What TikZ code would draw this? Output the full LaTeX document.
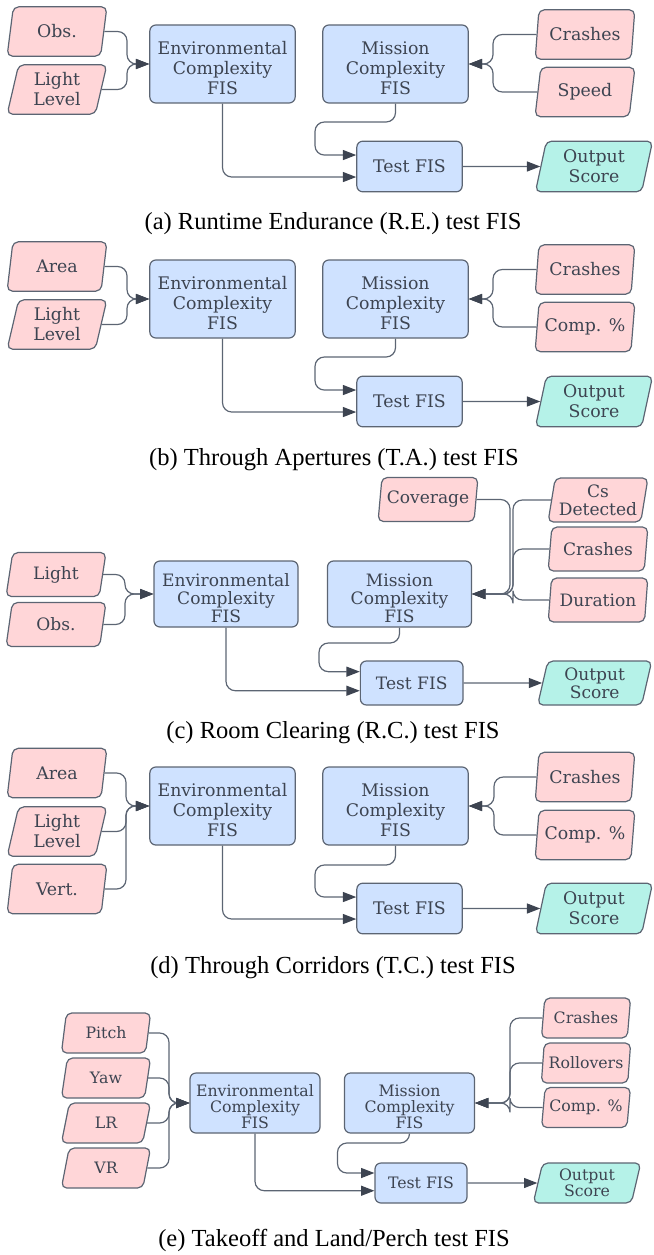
\documentclass[tikz,border=0pt]{standalone}
\usepackage{fontspec}
\setmainfont{Liberation Serif}
\newfontfamily\slabfont{DejaVu Serif}
\usepackage{tikz}
\usetikzlibrary{arrows.meta,shapes.geometric}

\definecolor{fisblue}{HTML}{CFE2FF}
\definecolor{inpink}{HTML}{FFD6D8}
\definecolor{outteal}{HTML}{B5F2E8}
\definecolor{edgegray}{HTML}{5C6573}
\definecolor{txtgray}{HTML}{3D4451}

% strut to push three-line labels down a little
\newcommand{\toppad}{\rule{0pt}{1.25em}}

\tikzset{
  fis/.style={draw=edgegray, line width=0.9pt, fill=fisblue, rounded corners=4.5pt,
    align=center, text=txtgray, inner sep=0pt,
    font=\slabfont\fontsize{13}{15}\selectfont,
    minimum width=109pt, minimum height=58.5pt},
  testfis/.style={fis, minimum width=79pt, minimum height=38pt},
  inbox/.style={trapezium, trapezium left angle=78, trapezium right angle=102,
    trapezium stretches=true, draw=edgegray, line width=0.9pt, fill=inpink,
    rounded corners=4pt, align=center, text=txtgray, inner sep=0pt,
    font=\slabfont\fontsize{13}{15}\selectfont,
    minimum width=75pt, minimum height=37pt},
  outbox/.style={inbox, fill=outteal, minimum width=88pt, minimum height=38pt},
  cfont/.style={font=\slabfont\fontsize{12.8}{13.5}\selectfont},
  efont/.style={font=\slabfont\fontsize{11.8}{12}\selectfont},
  flow/.style={draw=edgegray, line width=0.9pt, rounded corners=7pt,
    -{Triangle[length=10pt, width=7.5pt, color=txtgray]}},
  caption/.style={font=\fontsize{18.4}{22}\selectfont}
}

\begin{document}
\begin{tikzpicture}[x=0.75pt, y=-0.75pt]
\useasboundingbox (0,0) rectangle (653,1255);

% (a) runtime endurance
\begin{scope}
\node[inbox] at (57,31.5) (a-obs) {Obs.};
\node[inbox] at (57,89.5) (a-light) {Light\\Level};
\node[fis] at (222.5,64) (a-env) {\toppad Environmental\\Complexity\\FIS};
\node[fis] at (395.5,64) (a-mis) {\toppad Mission\\Complexity\\FIS};
\node[inbox] at (585,34.5) (a-crash) {Crashes};
\node[inbox] at (585,92) (a-speed) {Speed};
\node[testfis] at (409.5,166.5) (a-test) {Test FIS};
\node[outbox] at (594,166.5) (a-out) {Output\\Score};
\node[caption] at (333,224) (a-cap) {(a) Runtime Endurance (R.E.) test FIS};
\coordinate (a-jl) at (127,64);
\coordinate (a-jr) at (493,64);
\coordinate (a-bend) at (315,122);

\draw[flow] (a-obs.east) -| (a-jl) -- (a-env.west);
\draw[flow] (a-light.east) -| (a-jl) -- (a-env.west);
\draw[flow] (a-crash.west) -| (a-jr) -- (a-mis.east);
\draw[flow] (a-speed.west) -| (a-jr) -- (a-mis.east);
\draw[flow] (a-mis.south) |- (a-bend) |- ([yshift=8.6pt]a-test.west);
\draw[flow] (a-env.south) |- ([yshift=-7.9pt]a-test.west);
\draw[flow] (a-test.east) -- (a-out.west);
\end{scope}

% (b) through apertures
\begin{scope}[shift={(0,235)}]
\node[inbox] at (57,31.5) (b-area) {Area};
\node[inbox] at (57,89.5) (b-light) {Light\\Level};
\node[fis] at (222.5,64) (b-env) {\toppad Environmental\\Complexity\\FIS};
\node[fis] at (395.5,64) (b-mis) {\toppad Mission\\Complexity\\FIS};
\node[inbox] at (585,34.5) (b-crash) {Crashes};
\node[inbox] at (585,92) (b-comp) {Comp. \%};
\node[testfis] at (409.5,166.5) (b-test) {Test FIS};
\node[outbox] at (594,166.5) (b-out) {Output\\Score};
\node[caption] at (334,225) (b-cap) {(b) Through Apertures (T.A.) test FIS};
\coordinate (b-jl) at (127,64);
\coordinate (b-jr) at (493,64);
\coordinate (b-bend) at (315,122);

\draw[flow] (b-area.east) -| (b-jl) -- (b-env.west);
\draw[flow] (b-light.east) -| (b-jl) -- (b-env.west);
\draw[flow] (b-crash.west) -| (b-jr) -- (b-mis.east);
\draw[flow] (b-comp.west) -| (b-jr) -- (b-mis.east);
\draw[flow] (b-mis.south) |- (b-bend) |- ([yshift=8.6pt]b-test.west);
\draw[flow] (b-env.south) |- ([yshift=-7.9pt]b-test.west);
\draw[flow] (b-test.east) -- (b-out.west);
\end{scope}

% (c) room clearing
\begin{scope}
\node[inbox, cfont, minimum height=33pt] at (428,499.5) (c-cov) {Coverage};
\node[inbox, cfont, minimum height=33pt] at (598,500) (c-cs) {Cs\\Detected};
\node[inbox, cfont, minimum height=33pt] at (598,549) (c-crash) {Crashes};
\node[inbox, cfont, minimum height=33pt] at (598,600) (c-dur) {Duration};
\node[inbox, cfont, minimum height=33pt] at (56,574.5) (c-light) {Light};
\node[inbox, cfont, minimum height=33pt] at (56,624.5) (c-obs) {Obs.};
\node[fis, cfont, minimum width=108pt, minimum height=49.5pt] at (226,594) (c-env) {\toppad Environmental\\Complexity\\FIS};
\node[fis, cfont, minimum width=108pt, minimum height=49.5pt] at (399.5,594) (c-mis) {\toppad Mission\\Complexity\\FIS};
\node[testfis, cfont, minimum width=77pt, minimum height=33pt] at (411.7,683) (c-test) {Test FIS};
\node[outbox, cfont, minimum width=86pt, minimum height=33pt] at (594.7,683) (c-out) {Output\\Score};
\node[caption] at (333,733) (c-cap) {(c) Room Clearing (R.C.) test FIS};
\coordinate (c-jl) at (125,594);
\coordinate (c-jr) at (510,594);
\coordinate (c-jr2) at (513,594);
\coordinate (c-bend) at (319,643);

\draw[flow] (c-light.east) -| (c-jl) -- (c-env.west);
\draw[flow] (c-obs.east) -| (c-jl) -- (c-env.west);
\draw[flow] (c-cov.east) -| (c-jr) -- (c-mis.east);
\draw[flow] (c-cs.west) -| (c-jr2) -- (c-mis.east);
\draw[flow] (c-crash.west) -| (c-jr2) -- (c-mis.east);
\draw[flow] (c-dur.west) -| (c-jr2) -- (c-mis.east);
\draw[flow] (c-mis.south) |- (c-bend) |- ([yshift=8.5pt]c-test.west);
\draw[flow] (c-env.south) |- ([yshift=-5.8pt]c-test.west);
\draw[flow] (c-test.east) -- (c-out.west);
\end{scope}

% (d) through corridors
\begin{scope}[shift={(0,742)}]
\node[inbox] at (57,31) (d-area) {Area};
\node[inbox] at (57,89.5) (d-light) {Light\\Level};
\node[inbox] at (57,147) (d-vert) {Vert.};
\node[fis] at (222.5,64) (d-env) {\toppad Environmental\\Complexity\\FIS};
\node[fis] at (395.5,64) (d-mis) {\toppad Mission\\Complexity\\FIS};
\node[inbox] at (585,35) (d-crash) {Crashes};
\node[inbox] at (585,93) (d-comp) {Comp. \%};
\node[testfis] at (409.5,166.5) (d-test) {Test FIS};
\node[outbox] at (594,166.5) (d-out) {Output\\Score};
\node[caption] at (333,225.7) (d-cap) {(d) Through Corridors (T.C.) test FIS};
\coordinate (d-jl) at (126,64);
\coordinate (d-jr) at (494,64);
\coordinate (d-bend) at (315,123);

\draw[flow] (d-area.east) -| (d-jl) -- (d-env.west);
\draw[flow] (d-light.east) -| (d-jl) -- (d-env.west);
\draw[flow] (d-vert.east) -| (d-jl) -- (d-env.west);
\draw[flow] (d-crash.west) -| (d-jr) -- (d-mis.east);
\draw[flow] (d-comp.west) -| (d-jr) -- (d-mis.east);
\draw[flow] (d-mis.south) |- (d-bend) |- ([yshift=8.6pt]d-test.west);
\draw[flow] (d-env.south) |- ([yshift=-7.9pt]d-test.west);
\draw[flow] (d-test.east) -- (d-out.west);
\end{scope}

% (e) takeoff and land/perch
\begin{scope}
\node[inbox, efont, minimum width=67pt, minimum height=30pt] at (106,1033) (e-pitch) {Pitch};
\node[inbox, efont, minimum width=67pt, minimum height=30pt] at (106,1078) (e-yaw) {Yaw};
\node[inbox, efont, minimum width=67pt, minimum height=30pt] at (106,1123) (e-lr) {LR};
\node[inbox, efont, minimum width=67pt, minimum height=30pt] at (106,1168) (e-vr) {VR};
\node[fis, efont, minimum width=97.5pt, minimum height=45pt] at (255,1103) (e-env) {\toppad Environmental\\Complexity\\FIS};
\node[fis, efont, minimum width=97.5pt, minimum height=45pt] at (409.5,1103) (e-mis) {\toppad Mission\\Complexity\\FIS};
\node[inbox, efont, minimum width=67pt, minimum height=30pt] at (586,1018) (e-crash) {Crashes};
\node[inbox, efont, minimum width=67pt, minimum height=30pt] at (586,1063) (e-roll) {Rollovers};
\node[inbox, efont, minimum width=67pt, minimum height=30pt] at (586,1107.5) (e-comp) {Comp. \%};
\node[testfis, efont, minimum width=69pt, minimum height=30pt] at (421,1183) (e-test) {Test FIS};
\node[outbox, efont, minimum width=81pt, minimum height=30pt] at (587,1183) (e-out) {Output\\Score};
\node[caption] at (334,1240) (e-cap) {(e) Takeoff and Land/Perch test FIS};
\coordinate (e-jl) at (169,1103);
\coordinate (e-jr) at (510,1103);
\coordinate (e-bend) at (337.5,1143);

\draw[flow] (e-pitch.east) -| (e-jl) -- (e-env.west);
\draw[flow] (e-yaw.east) -| (e-jl) -- (e-env.west);
\draw[flow] (e-lr.east) -| (e-jl) -- (e-env.west);
\draw[flow] (e-vr.east) -| (e-jl) -- (e-env.west);
\draw[flow] (e-crash.west) -| (e-jr) -- (e-mis.east);
\draw[flow] (e-roll.west) -| (e-jr) -- (e-mis.east);
\draw[flow] (e-comp.west) -| (e-jr) -- (e-mis.east);
\draw[flow] (e-mis.south) |- (e-bend) |- ([yshift=7.5pt]e-test.west);
\draw[flow] (e-env.south) |- ([yshift=-5.8pt]e-test.west);
\draw[flow] (e-test.east) -- (e-out.west);
\end{scope}

\end{tikzpicture}
\end{document}
